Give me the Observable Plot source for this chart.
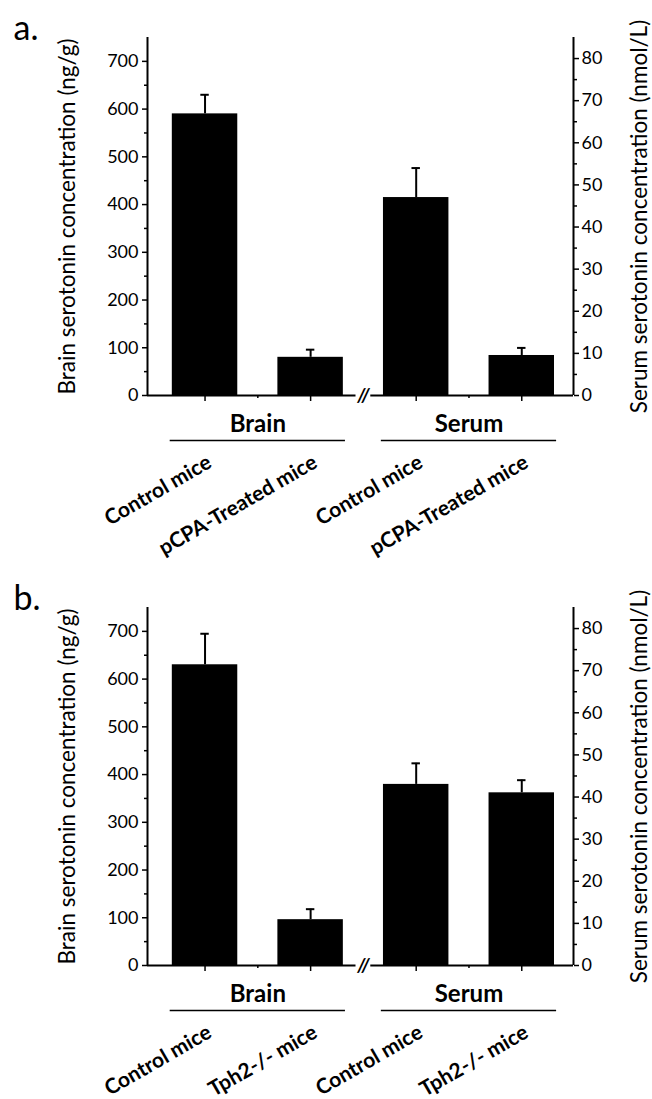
<!DOCTYPE html>
<html>
<head>
<meta charset="utf-8">
<script src="https://cdn.jsdelivr.net/npm/d3@7"></script>
<script src="https://cdn.jsdelivr.net/npm/@observablehq/plot@0.6"></script>
<style>
  body { margin: 0; background: #fff; }
  #chart { width: 652px; }
  #chart svg { display: block; }
</style>
</head>
<body>
<div id="chart"></div>
<script>
// ---------- data ----------
const groups = ["Brain", "Brain", "Serum", "Serum"];
const axisOf = ["left", "left", "right", "right"];

const labelsA = ["Control mice", "pCPA-Treated mice", "Control mice", "pCPA-Treated mice"];
const meansA = [590, 80, 47, 9.5];
const errTopA = [630, 96, 54, 11.3];

const labelsB = ["Control mice", "Tph2-/- mice", "Control mice", "Tph2-/- mice"];
const meansB = [630, 96, 43, 41];
const errTopB = [695, 118, 48, 44];

const leftDomain = [0, 750];
const rightDomain = [0, 85];
const leftTicks = [0, 100, 200, 300, 400, 500, 600, 700];
const leftMinor = [50, 150, 250, 350, 450, 550, 650];
const rightTicks = [0, 10, 20, 30, 40, 50, 60, 70, 80];
const rightMinor = [5, 15, 25, 35, 45, 55, 65, 75];

const panelLetters = ["a.", "b."];
const leftTitle = "Brain serotonin concentration (ng/g)";
const rightTitle = "Serum serotonin concentration (nmol/L)";

// ---------- layout / style ----------
const FONT = "Lato, 'Open Sans', sans-serif";
const xDomain = [0.455, 4.49];
const halfBar = 0.31;
const halfCap = 0.04;
const breakGap = 0.07;
const groupHalf = 0.83;
const toLeft = v => v * leftDomain[1] / rightDomain[1];
const fromLeft = v => v * rightDomain[1] / leftDomain[1];

function panel(letter, labels, means, errTop, height, marginBottom) {
  const rows = labels.map((label, i) => ({
    pos: i + 1,
    label,
    group: groups[i],
    value: axisOf[i] === "right" ? toLeft(means[i]) : means[i],
    err: axisOf[i] === "right" ? toLeft(errTop[i]) : errTop[i]
  }));
  const groupNames = Array.from(new Set(groups));
  const groupRows = groupNames.map(g => {
    const ps = rows.filter(r => r.group === g).map(r => r.pos);
    return { name: g, center: d3.mean(ps) };
  });
  const breakAt = (groupRows[0].center + groupRows[1].center) / 2;
  const majorX = rows.map(r => r.pos);
  const minorX = groupRows.map(g => g.center);

  return Plot.plot({
    width: 652,
    height,
    marginLeft: 147,
    marginRight: 79,
    marginTop: 37,
    marginBottom,
    style: { fontFamily: FONT, color: "black", background: "white", overflow: "visible" },
    x: { type: "linear", domain: xDomain },
    y: { domain: leftDomain },
    marks: [
      // bars
      Plot.rectY(rows, { x1: d => d.pos - halfBar, x2: d => d.pos + halfBar, y: "value", fill: "black" }),
      // error bars (upper only)
      Plot.ruleX(rows, { x: "pos", y1: "value", y2: "err", stroke: "black", strokeWidth: 2 }),
      Plot.ruleY(rows, { y: "err", x1: d => d.pos - halfCap, x2: d => d.pos + halfCap, stroke: "black", strokeWidth: 2 }),
      // axis lines
      Plot.ruleX([xDomain[0], xDomain[1]], { y1: leftDomain[0], y2: leftDomain[1], stroke: "black", strokeWidth: 2 }),
      Plot.ruleY([0], { x1: xDomain[0], x2: breakAt - breakGap, stroke: "black", strokeWidth: 2 }),
      Plot.ruleY([0], { x1: breakAt + breakGap, x2: xDomain[1], stroke: "black", strokeWidth: 2 }),
      Plot.text(["//"], { x: breakAt, y: 0, text: d => d, fontSize: 19, fontWeight: "bold", fontStyle: "italic", lineAnchor: "middle", dy: 0 }),
      // x ticks
      Plot.axisX({ ticks: majorX, tickSize: 6, tickFormat: () => "", strokeWidth: 1.5, label: null }),
      Plot.axisX({ ticks: minorX, tickSize: 3, tickFormat: () => "", strokeWidth: 1.5, label: null }),
      // left axis
      Plot.axisY({ anchor: "left", ticks: leftTicks, tickSize: 5, tickPadding: 4, fontSize: 18, strokeWidth: 1.5, label: null }),
      Plot.axisY({ anchor: "left", ticks: leftMinor, tickSize: 3, tickFormat: () => "", strokeWidth: 1.5, label: null }),
      // right axis
      Plot.axisY({ anchor: "right", ticks: rightTicks.map(toLeft), tickFormat: d => Math.round(fromLeft(d)), tickSize: 5, tickPadding: 3, fontSize: 18, strokeWidth: 1.5, label: null }),
      Plot.axisY({ anchor: "right", ticks: rightMinor.map(toLeft), tickSize: 3, tickFormat: () => "", strokeWidth: 1.5, label: null }),
      // group labels and underlines
      Plot.text(groupRows, { x: "center", y: 0, dy: 36, text: "name", fontSize: 24, fontWeight: "bold", lineAnchor: "bottom" }),
      Plot.ruleY(groupRows, { y: 0, dy: 45, x1: d => d.center - groupHalf, x2: d => d.center + groupHalf, stroke: "black", strokeWidth: 1.5 }),
      // category labels
      Plot.text(rows, { x: "pos", y: 0, dx: 8, dy: 71, text: "label", rotate: -30, textAnchor: "end", lineAnchor: "bottom", fontSize: 21, fontWeight: "bold" }),
      // axis titles
      Plot.text([leftTitle], { frameAnchor: "left", dx: -80, rotate: -90, text: d => d, fontSize: 22.5, textAnchor: "middle", lineAnchor: "middle" }),
      Plot.text([rightTitle], { frameAnchor: "right", dx: 66, rotate: -90, text: d => d, fontSize: 22.5, textAnchor: "middle", lineAnchor: "middle" }),
      // panel letter
      Plot.text([letter], { frameAnchor: "top-left", dx: -134, dy: 2, text: d => d, fontSize: 34, textAnchor: "start", lineAnchor: "bottom" })
    ]
  });
}

const chart = document.getElementById("chart");
chart.append(panel(panelLetters[0], labelsA, meansA, errTopA, 570, 175));
chart.append(panel(panelLetters[1], labelsB, meansB, errTopB, 529, 134));
</script>
</body>
</html>
